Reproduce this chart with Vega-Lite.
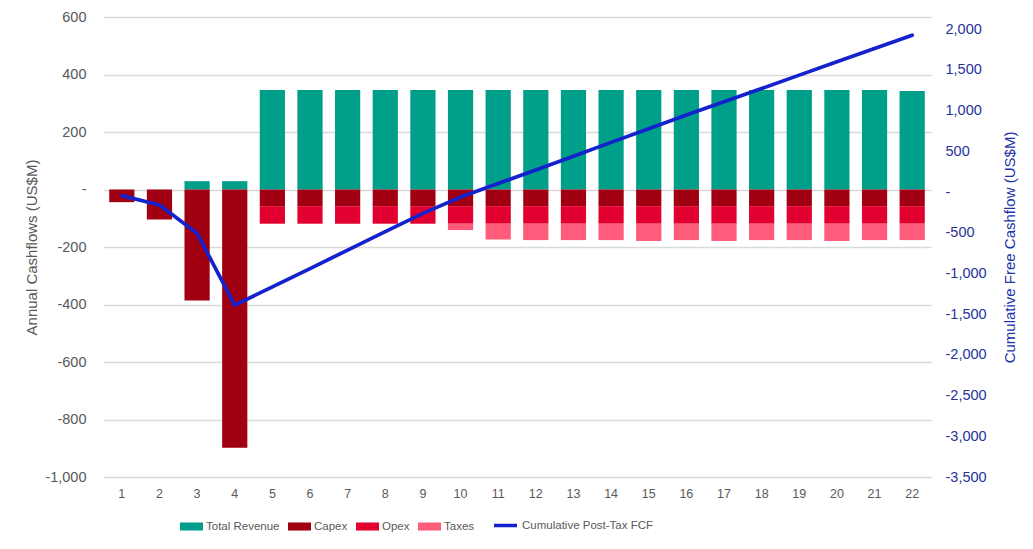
{
  "$schema": "https://vega.github.io/schema/vega-lite/v6.json",
  "width": 828,
  "height": 460,
  "autosize": {"type": "none"},
  "padding": {"left": 103, "top": 17, "right": 102, "bottom": 72},
  "background": "white",
  "config": {
    "view": {"stroke": null},
    "font": "Liberation Sans",
    "axis": {"domain": false, "ticks": false, "labelFont": "Liberation Sans", "titleFont": "Liberation Sans", "titleFontWeight": "normal"}
  },
  "datasets": {
    "bars": [
      {"year": 1, "category": "Capex", "value": -44},
      {"year": 2, "category": "Capex", "value": -104},
      {"year": 3, "category": "Total Revenue", "value": 29},
      {"year": 3, "category": "Capex", "value": -386},
      {"year": 4, "category": "Total Revenue", "value": 29},
      {"year": 4, "category": "Capex", "value": -898},
      {"year": 5, "category": "Total Revenue", "value": 346},
      {"year": 5, "category": "Capex", "value": -58},
      {"year": 5, "category": "Opex", "value": -61},
      {"year": 6, "category": "Total Revenue", "value": 346},
      {"year": 6, "category": "Capex", "value": -58},
      {"year": 6, "category": "Opex", "value": -61},
      {"year": 7, "category": "Total Revenue", "value": 346},
      {"year": 7, "category": "Capex", "value": -58},
      {"year": 7, "category": "Opex", "value": -61},
      {"year": 8, "category": "Total Revenue", "value": 346},
      {"year": 8, "category": "Capex", "value": -58},
      {"year": 8, "category": "Opex", "value": -61},
      {"year": 9, "category": "Total Revenue", "value": 346},
      {"year": 9, "category": "Capex", "value": -58},
      {"year": 9, "category": "Opex", "value": -61},
      {"year": 10, "category": "Total Revenue", "value": 346},
      {"year": 10, "category": "Capex", "value": -58},
      {"year": 10, "category": "Opex", "value": -61},
      {"year": 10, "category": "Taxes", "value": -22},
      {"year": 11, "category": "Total Revenue", "value": 346},
      {"year": 11, "category": "Capex", "value": -58},
      {"year": 11, "category": "Opex", "value": -61},
      {"year": 11, "category": "Taxes", "value": -55},
      {"year": 12, "category": "Total Revenue", "value": 346},
      {"year": 12, "category": "Capex", "value": -58},
      {"year": 12, "category": "Opex", "value": -61},
      {"year": 12, "category": "Taxes", "value": -57},
      {"year": 13, "category": "Total Revenue", "value": 346},
      {"year": 13, "category": "Capex", "value": -58},
      {"year": 13, "category": "Opex", "value": -61},
      {"year": 13, "category": "Taxes", "value": -57},
      {"year": 14, "category": "Total Revenue", "value": 346},
      {"year": 14, "category": "Capex", "value": -58},
      {"year": 14, "category": "Opex", "value": -61},
      {"year": 14, "category": "Taxes", "value": -57},
      {"year": 15, "category": "Total Revenue", "value": 346},
      {"year": 15, "category": "Capex", "value": -58},
      {"year": 15, "category": "Opex", "value": -61},
      {"year": 15, "category": "Taxes", "value": -60},
      {"year": 16, "category": "Total Revenue", "value": 346},
      {"year": 16, "category": "Capex", "value": -58},
      {"year": 16, "category": "Opex", "value": -61},
      {"year": 16, "category": "Taxes", "value": -57},
      {"year": 17, "category": "Total Revenue", "value": 346},
      {"year": 17, "category": "Capex", "value": -58},
      {"year": 17, "category": "Opex", "value": -61},
      {"year": 17, "category": "Taxes", "value": -60},
      {"year": 18, "category": "Total Revenue", "value": 346},
      {"year": 18, "category": "Capex", "value": -58},
      {"year": 18, "category": "Opex", "value": -61},
      {"year": 18, "category": "Taxes", "value": -57},
      {"year": 19, "category": "Total Revenue", "value": 346},
      {"year": 19, "category": "Capex", "value": -58},
      {"year": 19, "category": "Opex", "value": -61},
      {"year": 19, "category": "Taxes", "value": -57},
      {"year": 20, "category": "Total Revenue", "value": 346},
      {"year": 20, "category": "Capex", "value": -58},
      {"year": 20, "category": "Opex", "value": -61},
      {"year": 20, "category": "Taxes", "value": -60},
      {"year": 21, "category": "Total Revenue", "value": 346},
      {"year": 21, "category": "Capex", "value": -58},
      {"year": 21, "category": "Opex", "value": -61},
      {"year": 21, "category": "Taxes", "value": -57},
      {"year": 22, "category": "Total Revenue", "value": 343},
      {"year": 22, "category": "Capex", "value": -58},
      {"year": 22, "category": "Opex", "value": -61},
      {"year": 22, "category": "Taxes", "value": -57}
    ],
    "fcf": [
      {"year": 1, "series": "Cumulative Post-Tax FCF", "cumulative": -44},
      {"year": 2, "series": "Cumulative Post-Tax FCF", "cumulative": -160},
      {"year": 3, "series": "Cumulative Post-Tax FCF", "cumulative": -507},
      {"year": 4, "series": "Cumulative Post-Tax FCF", "cumulative": -1389},
      {"year": 5, "series": "Cumulative Post-Tax FCF", "cumulative": -1165},
      {"year": 6, "series": "Cumulative Post-Tax FCF", "cumulative": -940},
      {"year": 7, "series": "Cumulative Post-Tax FCF", "cumulative": -713},
      {"year": 8, "series": "Cumulative Post-Tax FCF", "cumulative": -487},
      {"year": 9, "series": "Cumulative Post-Tax FCF", "cumulative": -262},
      {"year": 10, "series": "Cumulative Post-Tax FCF", "cumulative": -62},
      {"year": 11, "series": "Cumulative Post-Tax FCF", "cumulative": 104},
      {"year": 12, "series": "Cumulative Post-Tax FCF", "cumulative": 272},
      {"year": 13, "series": "Cumulative Post-Tax FCF", "cumulative": 440},
      {"year": 14, "series": "Cumulative Post-Tax FCF", "cumulative": 610},
      {"year": 15, "series": "Cumulative Post-Tax FCF", "cumulative": 778},
      {"year": 16, "series": "Cumulative Post-Tax FCF", "cumulative": 945},
      {"year": 17, "series": "Cumulative Post-Tax FCF", "cumulative": 1108},
      {"year": 18, "series": "Cumulative Post-Tax FCF", "cumulative": 1272},
      {"year": 19, "series": "Cumulative Post-Tax FCF", "cumulative": 1436},
      {"year": 20, "series": "Cumulative Post-Tax FCF", "cumulative": 1600},
      {"year": 21, "series": "Cumulative Post-Tax FCF", "cumulative": 1763},
      {"year": 22, "series": "Cumulative Post-Tax FCF", "cumulative": 1927}
    ]
  },
  "layer": [
    {
      "data": {"name": "bars"},
      "mark": {"type": "bar"},
      "encoding": {
        "x": {
          "field": "year",
          "type": "ordinal",
          "scale": {"paddingInner": 0.33, "paddingOuter": 0.165},
          "axis": {"title": null, "labelAngle": 0, "labelFontSize": 12.5, "labelColor": "#595959", "labelPadding": 10, "grid": false}
        },
        "y": {
          "field": "value",
          "type": "quantitative",
          "stack": "zero",
          "scale": {"domain": [-1000, 600], "nice": false},
          "axis": {
            "title": "Annual Cashflows (US$M)",
            "titleColor": "#595959",
            "titleFontSize": 15,
            "titlePadding": 5,
            "values": [-1000, -800, -600, -400, -200, 0, 200, 400, 600],
            "labelExpr": "datum.value == 0 ? '-' : replace(format(datum.value, ','), '\u2212', '-')",
            "labelColor": "#595959",
            "labelFontSize": 14.5,
            "labelPadding": 17,
            "grid": true,
            "gridColor": "#d9d9d9",
            "gridWidth": 1.3
          }
        },
        "color": {
          "field": "category",
          "type": "nominal",
          "scale": {"domain": ["Total Revenue", "Capex", "Opex", "Taxes"], "range": ["#009F8A", "#A10012", "#E1002F", "#FF5C7C"]},
          "legend": {
            "title": null,
            "orient": "none",
            "legendX": 77,
            "legendY": 498,
            "direction": "horizontal",
            "symbolType": "M-1,-0.35L1,-0.35L1,0.35L-1,0.35Z",
            "symbolSize": 529,
            "symbolStrokeWidth": 0,
            "labelFontSize": 11.5,
            "labelColor": "#595959",
            "labelOffset": 3,
            "columnPadding": 8
          }
        },
        "order": {"field": "category", "sort": "ascending"}
      }
    },
    {
      "data": {"name": "fcf"},
      "mark": {"type": "line", "strokeWidth": 3.7, "strokeCap": "round", "strokeJoin": "round"},
      "encoding": {
        "x": {"field": "year", "type": "ordinal"},
        "y": {
          "field": "cumulative",
          "type": "quantitative",
          "scale": {"domain": [-3500, 2150], "nice": false},
          "axis": {
            "orient": "right",
            "title": "Cumulative Free Cashflow (US$M)",
            "titleColor": "#2233A8",
            "titleFontSize": 15,
            "titleAngle": 270,
            "titlePadding": 31,
            "values": [-3500, -3000, -2500, -2000, -1500, -1000, -500, 0, 500, 1000, 1500, 2000],
            "labelExpr": "datum.value == 0 ? '-' : replace(format(datum.value, ','), '\u2212', '-')",
            "labelColor": "#26339A",
            "labelFontSize": 14.5,
            "labelPadding": 14,
            "grid": false
          }
        },
        "stroke": {
          "field": "series",
          "type": "nominal",
          "scale": {"range": ["#1322CC"]},
          "legend": {
            "title": null,
            "orient": "none",
            "legendX": 389,
            "legendY": 495,
            "symbolType": "stroke",
            "symbolSize": 529,
            "symbolStrokeWidth": 3.5,
            "labelFontSize": 11.5,
            "labelColor": "#595959",
            "labelOffset": 3
          }
        }
      }
    }
  ],
  "resolve": {"scale": {"y": "independent"}}
}
